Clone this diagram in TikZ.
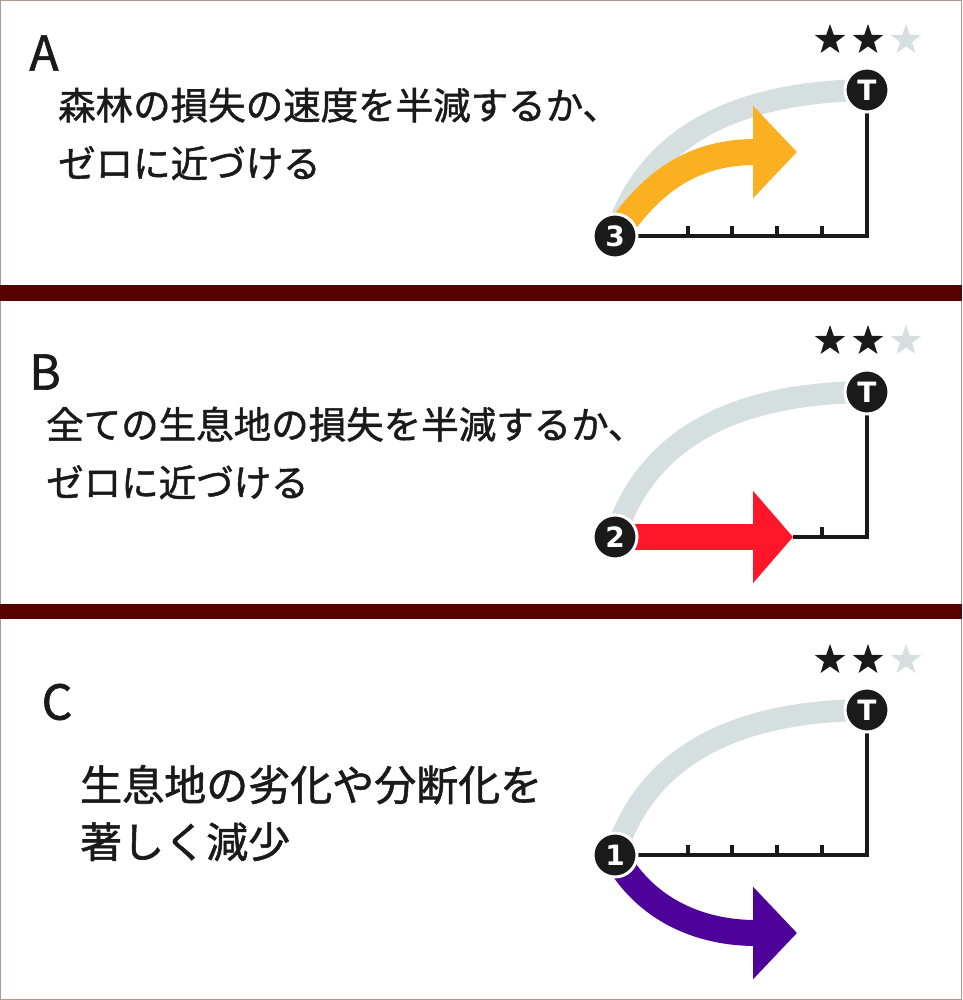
\documentclass[tikz,border=0pt]{standalone}
\usepackage{fontspec}
\setmainfont{Noto Sans CJK JP}[UprightFeatures={FakeBold=1.3}]
\newfontfamily\numfont{DejaVu Sans}
\usepackage{xcolor}
\usepackage{tikz}
\usetikzlibrary{arrows.meta, positioning, shapes.geometric, backgrounds}

\definecolor{bandred}{HTML}{560000}
\definecolor{framebrown}{HTML}{B39690}
\definecolor{trackgrey}{HTML}{D6DFE0}
\definecolor{inkblack}{HTML}{1A1A1A}
\definecolor{amber}{HTML}{FBB021}
\definecolor{alarmred}{HTML}{FF1628}
\definecolor{deeppurple}{HTML}{4E0299}

\begin{document}
\begin{tikzpicture}[
  x=1pt, y=-1pt,
  letter/.style={font=\fontsize{48}{48}\selectfont, text=inkblack, inner sep=0pt},
  goaltext/.style={font=\fontsize{37.5}{58}\selectfont, text=inkblack, align=left,
               inner sep=0pt, anchor=west},
  score/.style={circle, fill=inkblack, draw=white, line width=3pt, minimum size=44pt,
               inner sep=0pt, text=white, font=\numfont\bfseries\fontsize{28}{28}\selectfont},
  rating/.style={star, star points=5, star point ratio=2.5, minimum size=32pt, inner sep=0pt},
  track/.style={trackgrey, line width=22pt},
  axis/.style={inkblack, line width=4pt},
  fatarr/.style={line width=26pt, -{Triangle[length=44pt, width=90pt]}}
]
\useasboundingbox (0,0) rectangle (962,1000);
\draw[framebrown, line width=1pt] (0.5,0.5) rectangle (961.5,999.5);
\fill[bandred] (0,285) rectangle (962,301);
\fill[bandred] (0,604) rectangle (962,619);

\node[letter] (lblA) at (44,53) {A};
\node[goaltext] (goalA) at (58,134) {森林の損失の速度を半減するか、\\ゼロに近づける};
\node[score] (s3) at (615,236) {3};
\node[score] (tA) at (867,90) {T};
\coordinate (cornerA) at (867,236);
\coordinate (tipA) at (797,152);
\foreach \i/\c in {0/inkblack, 1/inkblack, 2/trackgrey}
  \node[rating, fill=\c] (starA\i) at (830+38*\i,40) {};

\node[letter] (lblB) at (45,372) {B};
\node[goaltext] (goalB) at (46,453) {全ての生息地の損失を半減するか、\\ゼロに近づける};
\node[score] (s2) at (615,537) {2};
\node[score] (tB) at (867,392) {T};
\coordinate (cornerB) at (867,537);
\coordinate (tipB) at (793,537);
\foreach \i/\c in {0/inkblack, 1/inkblack, 2/trackgrey}
  \node[rating, fill=\c] (starB\i) at (830+38*\i,341) {};

\node[letter] (lblC) at (57,702) {C};
\node[goaltext, font=\fontsize{42}{57}\selectfont] (goalC) at (80,813) {生息地の劣化や分断化を\\著しく減少};
\node[score] (s1) at (615,855) {1};
\node[score] (tC) at (867,710) {T};
\coordinate (cornerC) at (867,855);
\coordinate (tipC) at (797,933);
\foreach \i/\c in {0/inkblack, 1/inkblack, 2/trackgrey}
  \node[rating, fill=\c] (starC\i) at (830+38*\i,660) {};

\begin{scope}[on background layer]
\draw[track] (s3.center) .. controls (645,140) and (730,92) .. (tA.center);
\draw[axis] (s3.center) -- (cornerA) -- (tA.center);
\foreach \x in {688,732,777,822}
  \draw[axis] (\x,236) -- (\x,226);
\draw[fatarr, amber] (s3.center) .. controls (655,175) and (700,152) .. (tipA);

\draw[track] (s2.center) .. controls (645,441) and (730,393) .. (tB.center);
\draw[axis] (tipB) -- (cornerB) -- (tB.center);
\draw[axis] (822,537) -- (822,527);
\draw[fatarr, alarmred, -{Triangle[length=40pt, width=90pt]}] (s2.center) -- (tipB);

\draw[track] (s1.center) .. controls (645,759) and (730,711) .. (tC.center);
\draw[axis] (s1.center) -- (cornerC) -- (tC.center);
\foreach \x in {688,732,777,822}
  \draw[axis] (\x,855) -- (\x,845);
\draw[fatarr, deeppurple] (s1.center) .. controls (645,910) and (700,933) .. (tipC);
\end{scope}
\end{tikzpicture}
\end{document}
